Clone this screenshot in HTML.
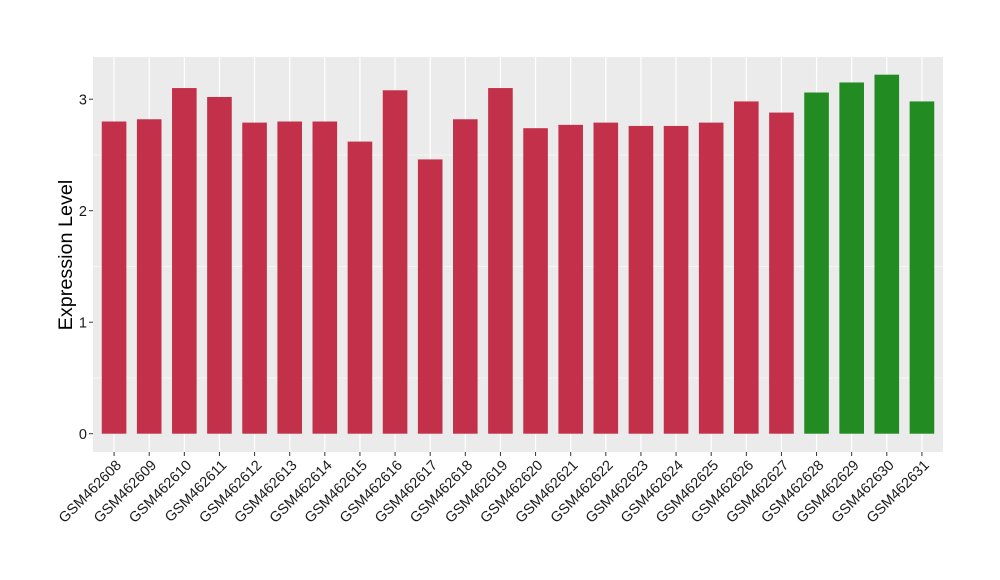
<!DOCTYPE html>
<html><head><meta charset="utf-8"><style>body{margin:0;background:#fff}svg{display:block}text{font-family:"Liberation Sans",sans-serif}</style></head><body>
<svg width="1000" height="580" xmlns="http://www.w3.org/2000/svg">
<rect x="93" y="57" width="850" height="395" fill="#ebebeb"/>
<g stroke="#fff" stroke-width="0.6">
<line x1="93" x2="943" y1="378" y2="378"/><line x1="93" x2="943" y1="266.5" y2="266.5"/><line x1="93" x2="943" y1="155" y2="155"/>
</g>
<g id="grid" stroke="#fff" stroke-width="1.2"></g>
<g id="bars"></g>
<g id="labs" font-size="14.5" fill="#1a1a1a"></g>
<g font-size="14.5" fill="#1a1a1a" text-anchor="end">
<text x="87" y="439">0</text><text x="87" y="327.5">1</text><text x="87" y="216">2</text><text x="87" y="104.5">3</text>
</g>
<g stroke="#333" stroke-width="1"><line x1="89" x2="93" y1="433.7" y2="433.7"/><line x1="89" x2="93" y1="322.2" y2="322.2"/><line x1="89" x2="93" y1="210.7" y2="210.7"/><line x1="89" x2="93" y1="99.2" y2="99.2"/></g>
<text transform="translate(72,255) rotate(-90)" text-anchor="middle" font-size="19.8" fill="#000">Expression Level</text>
<script>
var v=[2.80,2.82,3.10,3.02,2.79,2.80,2.80,2.62,3.08,2.46,2.82,3.10,2.74,2.77,2.79,2.76,2.76,2.79,2.98,2.88,3.06,3.15,3.22,2.98];
var ns="http://www.w3.org/2000/svg",g=document.getElementById('grid'),b=document.getElementById('bars'),l=document.getElementById('labs');
for(var i=0;i<24;i++){var c=93+(0.6+i)*35.124;
var ln=document.createElementNS(ns,'line');ln.setAttribute('x1',c);ln.setAttribute('x2',c);ln.setAttribute('y1',57);ln.setAttribute('y2',452);g.appendChild(ln);
var tk=document.createElementNS(ns,'line');tk.setAttribute('x1',c);tk.setAttribute('x2',c);tk.setAttribute('y1',452);tk.setAttribute('y2',456);tk.setAttribute('stroke','#333');l.appendChild(tk);
var y=433.7-v[i]*111.5;var r=document.createElementNS(ns,'rect');r.setAttribute('x',c-12.3);r.setAttribute('width',24.6);r.setAttribute('y',y);r.setAttribute('height',433.7-y);r.setAttribute('fill',i>=20?'#228b22':'#c3304a');b.appendChild(r);
var t=document.createElementNS(ns,'text');t.setAttribute('text-anchor','end');t.setAttribute('transform','translate('+(c+8)+',466) rotate(-45)');t.textContent='GSM4626'+(i+8<10?'0':'')+(i+8);l.appendChild(t);}
</script>
</svg>
</body></html>
